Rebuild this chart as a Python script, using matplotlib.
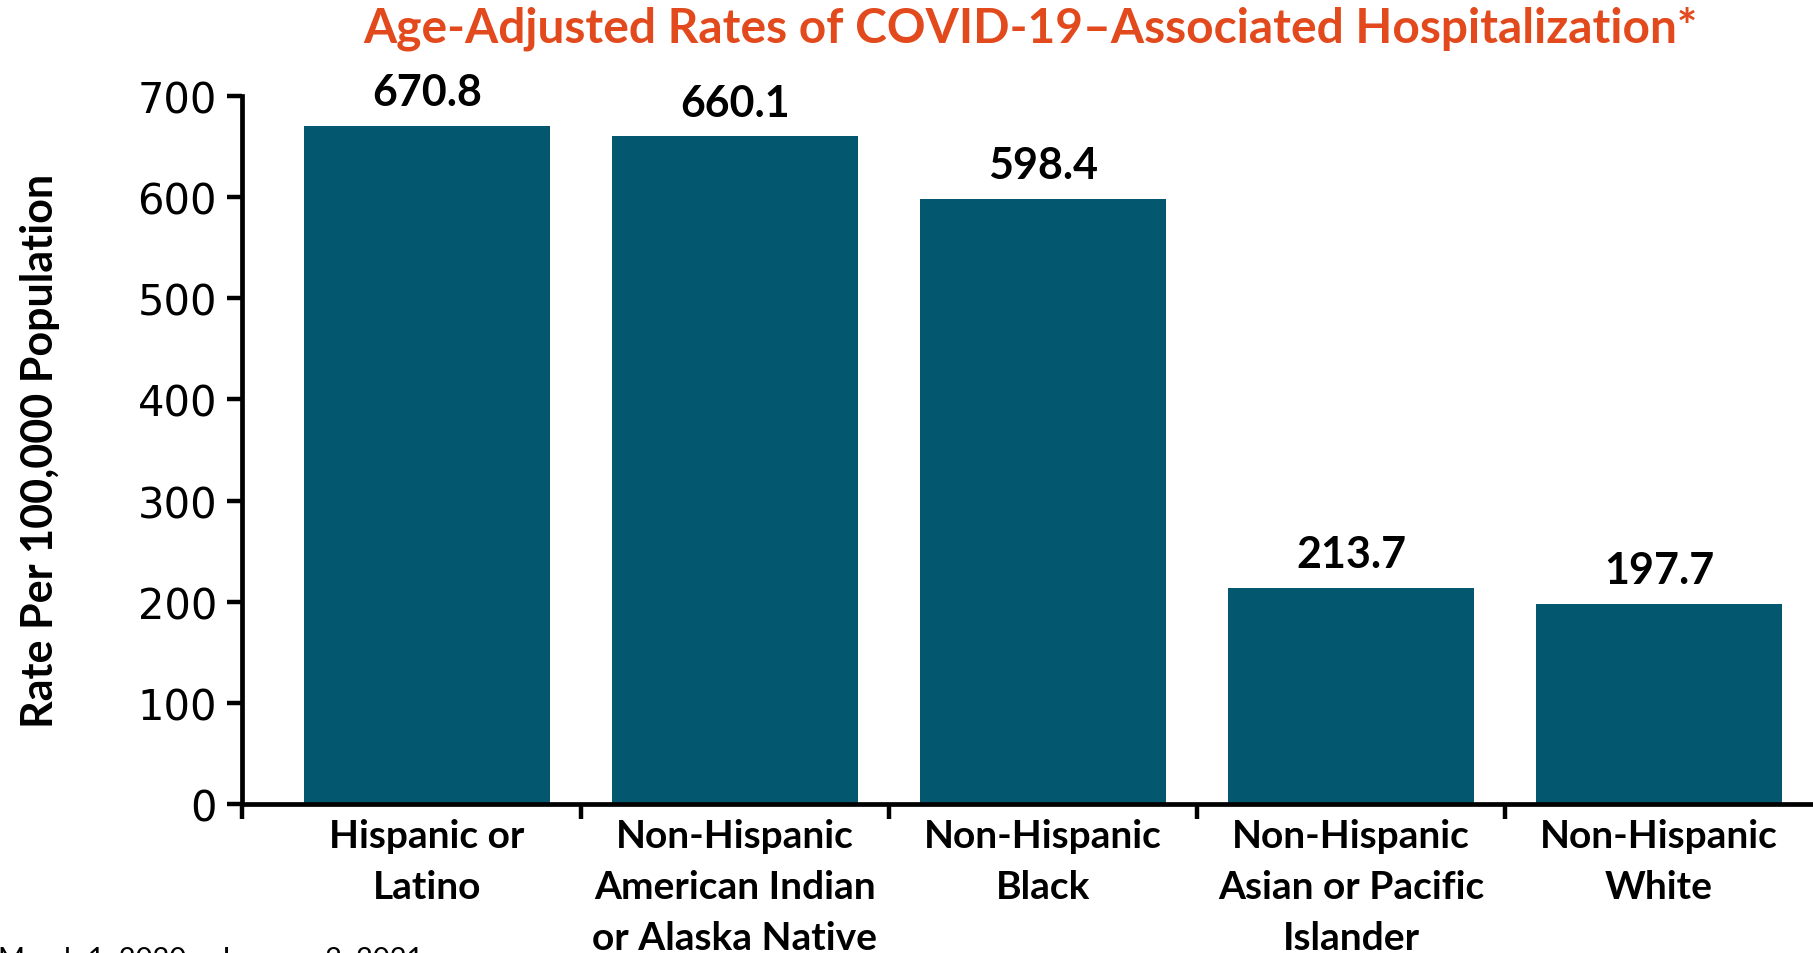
import matplotlib
matplotlib.use("Agg")
import matplotlib.pyplot as plt
from matplotlib.ticker import FixedLocator

categories = ["Hispanic or\nLatino",
              "Non-Hispanic\nAmerican Indian\nor Alaska Native",
              "Non-Hispanic\nBlack",
              "Non-Hispanic\nAsian or Pacific\nIslander",
              "Non-Hispanic\nWhite"]
values = [670.8, 660.1, 598.4, 213.7, 197.7]
value_labels = ["670.8", "660.1", "598.4", "213.7", "197.7"]
yticks = [0, 100, 200, 300, 400, 500, 600, 700]

title = "Age-Adjusted Rates of COVID-19\u2013Associated Hospitalization*"
ylabel = "Rate Per 100,000 Population"
footnote = "March 1, 2020 \u2013 January 2, 2021"

BAR = "#03586F"
ORANGE = "#E24A1E"
BOLD = "Lato"

W, H, DPI = 1813, 954, 100
fig = plt.figure(figsize=(W / DPI, H / DPI), dpi=DPI)
ax = fig.add_axes([242 / W, 1 - 805 / H, 1 - 242 / W, (805 - 97) / H])

x = list(range(len(values)))
ax.bar(x, values, width=0.8, color=BAR, zorder=2)
ax.set_xlim(-0.6, 4.5)
ax.set_ylim(0, 700)

for s in ["top", "right"]:
    ax.spines[s].set_visible(False)
for s in ["left", "bottom"]:
    ax.spines[s].set_linewidth(3.4)
    ax.spines[s].set_zorder(3)

ax.set_yticks(yticks)
ax.set_yticklabels([str(t) for t in yticks], fontsize=30, family="DejaVu Sans")
ax.tick_params(axis="y", length=11, width=3.2, pad=7)

ax.set_xticks(x)
ax.set_xticklabels(categories, fontsize=28, fontweight="bold", family=BOLD,
                   linespacing=1.55)
ax.tick_params(axis="x", which="major", length=0, pad=10)
ax.xaxis.set_minor_locator(FixedLocator([-0.6, 0.5, 1.5, 2.5, 3.5]))
ax.tick_params(axis="x", which="minor", length=11, width=3.2, direction="out")

for xi, v, lab in zip(x, values, value_labels):
    ax.annotate(lab, (xi, v), xytext=(0, 15), textcoords="offset points",
                ha="center", va="baseline", fontsize=31, fontweight="bold",
                family=BOLD, clip_on=False)

fig.text(1030 / W, 1 - 29 / H, title, ha="center", va="center", fontsize=34.5,
         fontweight="bold", family=BOLD, color=ORANGE)
fig.text(40 / W, 1 - 451 / H, ylabel, rotation=90, ha="center", va="center",
         fontsize=31, fontweight="bold", family=BOLD)
fig.text(-2 / W, 1 - 947 / H, footnote, ha="left", va="top", fontsize=21,
         family=BOLD)

fig.savefig("out.png", dpi=DPI)
